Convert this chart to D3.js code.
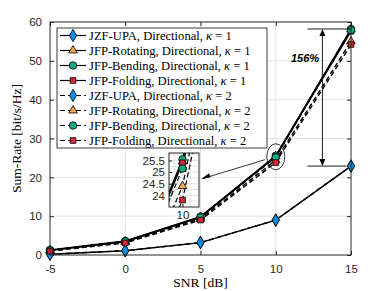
<!DOCTYPE html>
<html lang="en">
<head>
<meta charset="UTF-8">
<title>Sum-Rate vs SNR</title>
<style>
  body { margin: 0; background: #fff; }
  svg { display: block; }
  .tick text { font-family: "Liberation Sans", Arial, sans-serif; font-size: 11.5px; fill: #262626; }
</style>
</head>
<body>
<div id="chart"></div>
<script src="https://cdn.jsdelivr.net/npm/d3@7"></script>
<script>
// data
var snr = [-5, 0, 5, 10, 15];
var zfUpaK1 = [0.2, 1.1, 3.2, 9.0, 22.9];
var rotK1 = [1.2, 3.5, 9.8, 25.45, 58.1];
var bendK1 = [1.3, 3.6, 9.9, 25.55, 58.2];
var foldK1 = [1.2, 3.4, 9.7, 25.4, 57.6];
var zfUpaK2 = [0.2, 1.1, 3.2, 9.0, 22.9];
var rotK2 = [1.1, 3.3, 9.3, 24.4, 55.0];
var bendK2 = [1.2, 3.5, 9.7, 25.15, 57.9];
var foldK2 = [1.0, 3.1, 9.0, 23.8, 54.2];
var xTicks = [-5, 0, 5, 10, 15];
var yTicks = [0, 10, 20, 30, 40, 50, 60];
var insetYTicks = [24, 24.5, 25, 25.5];
var gainLabel = "156%";

var series = [
  { name: "JZF-UPA, Directional, ", k: 1, v: zfUpaK1, m: "diamond", c: "#0c8ee0", dash: null },
  { name: "JFP-Rotating, Directional, ", k: 1, v: rotK1, m: "triangle", c: "#f2a654", dash: null },
  { name: "JFP-Bending, Directional, ", k: 1, v: bendK1, m: "circle", c: "#14a884", dash: null },
  { name: "JFP-Folding, Directional, ", k: 1, v: foldK1, m: "square", c: "#d8283c", dash: null },
  { name: "JZF-UPA, Directional, ", k: 2, v: zfUpaK2, m: "diamond", c: "#0c8ee0", dash: "5,3" },
  { name: "JFP-Rotating, Directional, ", k: 2, v: rotK2, m: "triangle", c: "#f2a654", dash: "5,3" },
  { name: "JFP-Bending, Directional, ", k: 2, v: bendK2, m: "circle", c: "#14a884", dash: "5,3" },
  { name: "JFP-Folding, Directional, ", k: 2, v: foldK2, m: "square", c: "#d8283c", dash: "5,3" }
];

var width = 388, height = 291;
var pL = 50, pR = 351, pT = 22, pB = 255;

var svg = d3.select("#chart").append("svg")
  .attr("width", width).attr("height", height);

var x = d3.scaleLinear().domain([-5, 15]).range([pL, pR]);
var y = d3.scaleLinear().domain([0, 60]).range([pB, pT]);
var plain = d => String(d);

var symbols = {
  diamond: d3.symbol().type(d3.symbolDiamond).size(44),
  triangle: d3.symbol().type(d3.symbolTriangle).size(32),
  circle: d3.symbol().type(d3.symbolCircle).size(44),
  square: d3.symbol().type(d3.symbolSquare).size(32)
};

// grid
svg.append("g").selectAll("line").data(xTicks.slice(1, -1)).enter().append("line")
  .attr("x1", d => x(d)).attr("x2", d => x(d)).attr("y1", pT).attr("y2", pB)
  .attr("stroke", "#e3e3e3").attr("stroke-width", 1);
svg.append("g").selectAll("line").data(yTicks.slice(1, -1)).enter().append("line")
  .attr("y1", d => y(d)).attr("y2", d => y(d)).attr("x1", pL).attr("x2", pR)
  .attr("stroke", "#e3e3e3").attr("stroke-width", 1);

// axes (inward ticks, box)
function styleAxis(g) {
  g.select(".domain").remove();
  g.selectAll(".tick line").attr("stroke", "#262626");
}
svg.append("g").attr("transform", "translate(0," + pB + ")")
  .call(d3.axisBottom(x).tickValues(xTicks).tickSizeInner(-4).tickPadding(10).tickFormat(plain))
  .call(styleAxis);
svg.append("g").attr("transform", "translate(0," + pT + ")")
  .call(d3.axisTop(x).tickValues(xTicks).tickSizeInner(-4).tickFormat(""))
  .call(styleAxis);
svg.append("g").attr("transform", "translate(" + pL + ",0)")
  .call(d3.axisLeft(y).tickValues(yTicks).tickSizeInner(-4).tickPadding(8).tickFormat(plain))
  .call(styleAxis);
svg.append("g").attr("transform", "translate(" + pR + ",0)")
  .call(d3.axisRight(y).tickValues(yTicks).tickSizeInner(-4).tickFormat(""))
  .call(styleAxis);

function drawSeries(g, sx, sy, lw) {
  var ln = d3.line().x((d, i) => sx(snr[i])).y(d => sy(d));
  series.forEach(function (s) {
    g.append("path").datum(s.v)
      .attr("d", ln).attr("fill", "none")
      .attr("stroke", "#000").attr("stroke-width", lw)
      .attr("stroke-dasharray", s.dash);
  });
  series.forEach(function (s) {
    g.selectAll(null).data(s.v).enter().append("path")
      .attr("d", symbols[s.m])
      .attr("transform", (d, i) => "translate(" + sx(snr[i]) + "," + sy(d) + ")")
      .attr("fill", s.c).attr("stroke", "#000").attr("stroke-width", 0.8);
  });
}

var plot = svg.append("g");
drawSeries(plot, x, y, 1.4);

// frame
svg.append("rect").attr("x", pL).attr("y", pT)
  .attr("width", pR - pL).attr("height", pB - pT)
  .attr("fill", "none").attr("stroke", "#262626").attr("stroke-width", 1);

// axis labels
svg.append("text").attr("x", (pL + pR) / 2).attr("y", 287)
  .attr("text-anchor", "middle")
  .style("font-family", "Liberation Serif, serif").style("font-size", "13.5px")
  .text("SNR [dB]");
svg.append("text")
  .attr("transform", "translate(21," + ((pT + pB) / 2) + ") rotate(-90)")
  .attr("text-anchor", "middle")
  .style("font-family", "Liberation Serif, serif").style("font-size", "13.5px")
  .text("Sum-Rate [bit/s/Hz]");

// legend
var leg = svg.append("g");
leg.append("rect").attr("x", 57).attr("y", 28).attr("width", 210).attr("height", 120)
  .attr("fill", "#fff").attr("stroke", "#262626").attr("stroke-width", 0.9);
series.forEach(function (s, i) {
  var ly = 35.5 + i * 15;
  leg.append("line").attr("x1", 60).attr("x2", 86).attr("y1", ly).attr("y2", ly)
    .attr("stroke", "#000").attr("stroke-width", 1.2).attr("stroke-dasharray", s.dash);
  leg.append("path").attr("d", symbols[s.m])
    .attr("transform", "translate(73," + ly + ")")
    .attr("fill", s.c).attr("stroke", "#000").attr("stroke-width", 0.8);
  var t = leg.append("text").attr("x", 89).attr("y", ly + 4)
    .style("font-family", "Liberation Serif, serif").style("font-size", "12.6px");
  t.append("tspan").text(s.name);
  t.append("tspan").style("font-style", "italic").text("κ");
  t.append("tspan").text(" = " + s.k);
});

// 156% annotation
var ax = x(13.1);
svg.append("line").attr("x1", x(12.1)).attr("x2", x(15)).attr("y1", y(58.2)).attr("y2", y(58.2))
  .attr("stroke", "#000").attr("stroke-width", 0.9);
svg.append("line").attr("x1", x(12.1)).attr("x2", x(14.7)).attr("y1", y(22.9)).attr("y2", y(22.9))
  .attr("stroke", "#000").attr("stroke-width", 0.9);
svg.append("line").attr("x1", ax).attr("x2", ax).attr("y1", y(58.2) + 5).attr("y2", y(22.9) - 5)
  .attr("stroke", "#000").attr("stroke-width", 0.9);
svg.append("path").attr("d", "M" + ax + "," + y(58.2) + "l-3,7h6z").attr("fill", "#000");
svg.append("path").attr("d", "M" + ax + "," + y(22.9) + "l-3,-7h6z").attr("fill", "#000");
svg.append("text").attr("x", 305).attr("y", 62).attr("text-anchor", "middle")
  .style("font-family", "Liberation Sans, Arial, sans-serif").style("font-size", "11px")
  .style("font-weight", "bold").style("font-style", "italic").text(gainLabel);

// ellipse and pointer to inset
svg.append("ellipse").attr("cx", x(10)).attr("cy", y(25.3)).attr("rx", 9).attr("ry", 13)
  .attr("fill", "none").attr("stroke", "#000").attr("stroke-width", 0.8);
svg.append("line").attr("x1", x(10) - 11).attr("y1", y(25.3) + 3).attr("x2", 203).attr("y2", 178.5)
  .attr("stroke", "#000").attr("stroke-width", 0.8);
svg.append("path").attr("d", "M201,179.3l8,-6l1.5,4z").attr("fill", "#000");

// inset
var iL = 169, iR = 199, iT = 153, iB = 207;
var ix = d3.scaleLinear().domain([9.55, 10.55]).range([iL, iR]);
var iy = d3.scaleLinear().domain([23.5, 25.82]).range([iB, iT]);
var inset = svg.append("g");
inset.append("rect").attr("x", iL).attr("y", iT).attr("width", iR - iL).attr("height", iB - iT)
  .attr("fill", "#fff");
inset.append("g").selectAll("line").data([9.75, 10, 10.25]).enter().append("line")
  .attr("x1", d => ix(d)).attr("x2", d => ix(d)).attr("y1", iT).attr("y2", iB)
  .attr("stroke", "#e3e3e3");
inset.append("g").selectAll("line").data([23.75, 24, 24.25, 24.5, 24.75, 25, 25.25, 25.5, 25.75]).enter().append("line")
  .attr("y1", d => iy(d)).attr("y2", d => iy(d)).attr("x1", iL).attr("x2", iR)
  .attr("stroke", "#e3e3e3");
svg.append("clipPath").attr("id", "insetClip").append("rect")
  .attr("x", iL).attr("y", iT).attr("width", iR - iL).attr("height", iB - iT);
var insetPlot = inset.append("g").attr("clip-path", "url(#insetClip)");
drawSeries(insetPlot, ix, iy, 1.2);
inset.append("g").attr("transform", "translate(" + iL + ",0)")
  .call(d3.axisLeft(iy).tickValues(insetYTicks).tickSizeInner(-3).tickPadding(4).tickFormat(plain))
  .call(styleAxis);
inset.append("g").attr("transform", "translate(0," + iB + ")")
  .call(d3.axisBottom(ix).tickValues([10]).tickSizeInner(-3).tickPadding(4).tickFormat(plain))
  .call(styleAxis);
inset.append("rect").attr("x", iL).attr("y", iT).attr("width", iR - iL).attr("height", iB - iT)
  .attr("fill", "none").attr("stroke", "#262626").attr("stroke-width", 1);
</script>
</body>
</html>
